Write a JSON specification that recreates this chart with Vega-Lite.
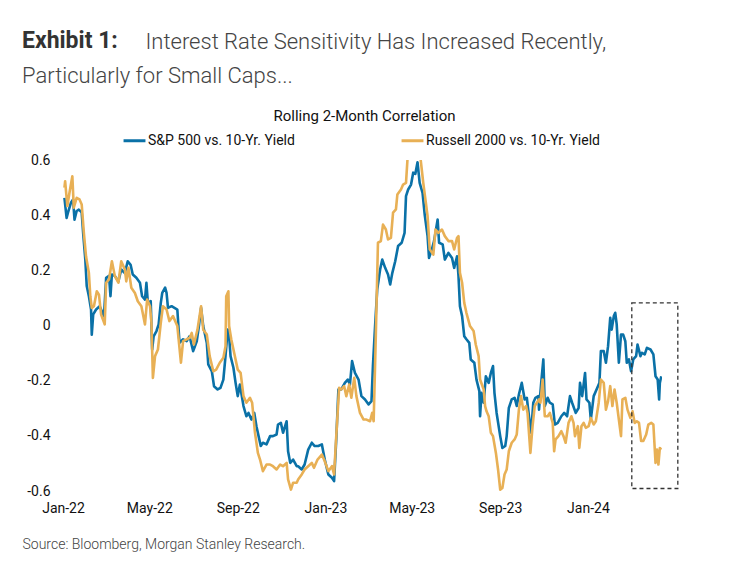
{
  "$schema": "https://vega.github.io/schema/vega-lite/v6.json",
  "autosize": "none",
  "padding": {"left": 63, "top": 160, "right": 70, "bottom": 81},
  "width": 599,
  "height": 331,
  "background": "white",
  "title": {
    "text": "Exhibit 1:",
    "subtitle": "Particularly for Small Caps...",
    "anchor": "start",
    "frame": "group",
    "dx": -41,
    "offset": -57,
    "font": "Roboto",
    "fontSize": 23,
    "fontWeight": "bold",
    "color": "#333333",
    "subtitleFont": "Roboto",
    "subtitleFontSize": 22,
    "subtitleFontWeight": 300,
    "subtitleColor": "#444444",
    "subtitlePadding": 13
  },
  "config": {
    "view": {"stroke": null},
    "font": "Roboto",
    "locale": {"number": {"decimal": ".", "thousands": ",", "grouping": [3], "currency": ["$", ""], "minus": "-"}}
  },
  "resolve": {"axis": {"x": "independent"}},
  "layer": [
    {
      "mark": {"type": "rule", "color": "#444444", "strokeWidth": 1.2},
      "encoding": {"y": {"datum": 0, "type": "quantitative"}}
    },
    {
      "data": {"values": [
        {"d":"2022-01-03","s":"S","v":0.463},{"d":"2022-01-06","s":"S","v":0.39},{"d":"2022-01-08","s":"S","v":0.41},{"d":"2022-01-12","s":"S","v":0.445},{"d":"2022-01-15","s":"S","v":0.457},{"d":"2022-01-17","s":"S","v":0.384},{"d":"2022-01-20","s":"S","v":0.415},{"d":"2022-01-23","s":"S","v":0.42},{"d":"2022-01-27","s":"S","v":0.41},{"d":"2022-01-29","s":"S","v":0.336},
        {"d":"2022-02-01","s":"S","v":0.24},{"d":"2022-02-03","s":"S","v":0.143},{"d":"2022-02-06","s":"S","v":0.106},{"d":"2022-02-09","s":"S","v":0.058},{"d":"2022-02-10","s":"S","v":-0.033},{"d":"2022-02-12","s":"S","v":0.04},{"d":"2022-02-16","s":"S","v":0.058},{"d":"2022-02-21","s":"S","v":0.07},{"d":"2022-02-27","s":"S","v":0.034},
        {"d":"2022-03-02","s":"S","v":0.173},{"d":"2022-03-06","s":"S","v":0.18},{"d":"2022-03-08","s":"S","v":0.106},{"d":"2022-03-10","s":"S","v":0.185},{"d":"2022-03-14","s":"S","v":0.18},{"d":"2022-03-19","s":"S","v":0.16},{"d":"2022-03-23","s":"S","v":0.203},{"d":"2022-03-28","s":"S","v":0.19},
        {"d":"2022-04-01","s":"S","v":0.233},{"d":"2022-04-05","s":"S","v":0.22},{"d":"2022-04-08","s":"S","v":0.185},{"d":"2022-04-13","s":"S","v":0.173},{"d":"2022-04-18","s":"S","v":0.155},{"d":"2022-04-21","s":"S","v":0.106},{"d":"2022-04-25","s":"S","v":0.094},{"d":"2022-04-27","s":"S","v":0.155},{"d":"2022-04-29","s":"S","v":0.082},
        {"d":"2022-05-03","s":"S","v":0.088},{"d":"2022-05-05","s":"S","v":-0.087},{"d":"2022-05-07","s":"S","v":-0.039},{"d":"2022-05-11","s":"S","v":-0.02},{"d":"2022-05-14","s":"S","v":0.004},{"d":"2022-05-17","s":"S","v":0.082},{"d":"2022-05-19","s":"S","v":0.118},{"d":"2022-05-23","s":"S","v":0.137},{"d":"2022-05-25","s":"S","v":0.118},{"d":"2022-05-27","s":"S","v":0.064},
        {"d":"2022-06-01","s":"S","v":0.07},{"d":"2022-06-05","s":"S","v":0.064},{"d":"2022-06-09","s":"S","v":0.058},{"d":"2022-06-12","s":"S","v":-0.063},{"d":"2022-06-17","s":"S","v":-0.05},{"d":"2022-06-22","s":"S","v":-0.057},{"d":"2022-06-26","s":"S","v":-0.039},
        {"d":"2022-07-01","s":"S","v":-0.093},{"d":"2022-07-06","s":"S","v":-0.057},{"d":"2022-07-09","s":"S","v":-0.002},{"d":"2022-07-12","s":"S","v":0.064},{"d":"2022-07-15","s":"S","v":-0.002},{"d":"2022-07-20","s":"S","v":-0.063},{"d":"2022-07-22","s":"S","v":-0.141},{"d":"2022-07-27","s":"S","v":-0.166},{"d":"2022-07-30","s":"S","v":-0.22},
        {"d":"2022-08-04","s":"S","v":-0.232},{"d":"2022-08-08","s":"S","v":-0.226},{"d":"2022-08-12","s":"S","v":-0.196},{"d":"2022-08-15","s":"S","v":-0.111},{"d":"2022-08-18","s":"S","v":-0.015},{"d":"2022-08-20","s":"S","v":-0.039},{"d":"2022-08-22","s":"S","v":-0.111},{"d":"2022-08-26","s":"S","v":-0.153},{"d":"2022-08-29","s":"S","v":-0.208},
        {"d":"2022-09-01","s":"S","v":-0.256},{"d":"2022-09-04","s":"S","v":-0.214},{"d":"2022-09-09","s":"S","v":-0.292},{"d":"2022-09-13","s":"S","v":-0.329},{"d":"2022-09-16","s":"S","v":-0.317},{"d":"2022-09-20","s":"S","v":-0.341},{"d":"2022-09-24","s":"S","v":-0.317},{"d":"2022-09-27","s":"S","v":-0.365},{"d":"2022-09-30","s":"S","v":-0.401},
        {"d":"2022-10-03","s":"S","v":-0.437},{"d":"2022-10-06","s":"S","v":-0.425},{"d":"2022-10-11","s":"S","v":-0.431},{"d":"2022-10-16","s":"S","v":-0.401},{"d":"2022-10-20","s":"S","v":-0.401},{"d":"2022-10-25","s":"S","v":-0.395},{"d":"2022-10-27","s":"S","v":-0.359},{"d":"2022-10-31","s":"S","v":-0.353},
        {"d":"2022-11-03","s":"S","v":-0.389},{"d":"2022-11-08","s":"S","v":-0.347},{"d":"2022-11-10","s":"S","v":-0.456},{"d":"2022-11-13","s":"S","v":-0.498},{"d":"2022-11-17","s":"S","v":-0.486},{"d":"2022-11-22","s":"S","v":-0.51},{"d":"2022-11-24","s":"S","v":-0.51},{"d":"2022-11-29","s":"S","v":-0.522},
        {"d":"2022-12-03","s":"S","v":-0.504},{"d":"2022-12-08","s":"S","v":-0.45},{"d":"2022-12-13","s":"S","v":-0.425},{"d":"2022-12-17","s":"S","v":-0.437},{"d":"2022-12-22","s":"S","v":-0.437},{"d":"2022-12-27","s":"S","v":-0.431},{"d":"2022-12-31","s":"S","v":-0.486},
        {"d":"2023-01-05","s":"S","v":-0.54},{"d":"2023-01-10","s":"S","v":-0.552},{"d":"2023-01-13","s":"S","v":-0.564},{"d":"2023-01-16","s":"S","v":-0.413},{"d":"2023-01-19","s":"S","v":-0.232},{"d":"2023-01-23","s":"S","v":-0.232},{"d":"2023-01-28","s":"S","v":-0.208},
        {"d":"2023-02-01","s":"S","v":-0.196},{"d":"2023-02-04","s":"S","v":-0.214},{"d":"2023-02-07","s":"S","v":-0.129},{"d":"2023-02-11","s":"S","v":-0.172},{"d":"2023-02-16","s":"S","v":-0.196},{"d":"2023-02-20","s":"S","v":-0.256},{"d":"2023-02-25","s":"S","v":-0.268},
        {"d":"2023-03-02","s":"S","v":-0.286},{"d":"2023-03-06","s":"S","v":-0.274},{"d":"2023-03-08","s":"S","v":-0.147},{"d":"2023-03-11","s":"S","v":-0.002},{"d":"2023-03-14","s":"S","v":0.131},{"d":"2023-03-18","s":"S","v":0.203},{"d":"2023-03-21","s":"S","v":0.239},{"d":"2023-03-25","s":"S","v":0.209},{"d":"2023-03-29","s":"S","v":0.185},
        {"d":"2023-04-01","s":"S","v":0.149},{"d":"2023-04-04","s":"S","v":0.191},{"d":"2023-04-08","s":"S","v":0.233},{"d":"2023-04-12","s":"S","v":0.288},{"d":"2023-04-17","s":"S","v":0.3},{"d":"2023-04-21","s":"S","v":0.336},{"d":"2023-04-23","s":"S","v":0.469},{"d":"2023-04-26","s":"S","v":0.493},{"d":"2023-04-30","s":"S","v":0.511},
        {"d":"2023-05-03","s":"S","v":0.554},{"d":"2023-05-06","s":"S","v":0.55},{"d":"2023-05-09","s":"S","v":0.592},{"d":"2023-05-12","s":"S","v":0.517},{"d":"2023-05-16","s":"S","v":0.481},{"d":"2023-05-19","s":"S","v":0.402},{"d":"2023-05-23","s":"S","v":0.324},{"d":"2023-05-25","s":"S","v":0.245},{"d":"2023-05-29","s":"S","v":0.276},
        {"d":"2023-06-01","s":"S","v":0.306},{"d":"2023-06-06","s":"S","v":0.384},{"d":"2023-06-08","s":"S","v":0.3},{"d":"2023-06-13","s":"S","v":0.294},{"d":"2023-06-16","s":"S","v":0.239},{"d":"2023-06-21","s":"S","v":0.263},{"d":"2023-06-26","s":"S","v":0.245},{"d":"2023-06-29","s":"S","v":0.209},
        {"d":"2023-07-03","s":"S","v":0.251},{"d":"2023-07-05","s":"S","v":0.179},{"d":"2023-07-07","s":"S","v":0.07},{"d":"2023-07-10","s":"S","v":0.034},{"d":"2023-07-13","s":"S","v":-0.039},{"d":"2023-07-16","s":"S","v":-0.05},{"d":"2023-07-20","s":"S","v":-0.063},{"d":"2023-07-22","s":"S","v":-0.123},{"d":"2023-07-27","s":"S","v":-0.135},{"d":"2023-07-30","s":"S","v":-0.196},
        {"d":"2023-08-03","s":"S","v":-0.238},{"d":"2023-08-04","s":"S","v":-0.329},{"d":"2023-08-06","s":"S","v":-0.244},{"d":"2023-08-09","s":"S","v":-0.28},{"d":"2023-08-12","s":"S","v":-0.184},{"d":"2023-08-16","s":"S","v":-0.208},{"d":"2023-08-19","s":"S","v":-0.172},{"d":"2023-08-22","s":"S","v":-0.147},{"d":"2023-08-24","s":"S","v":-0.244},{"d":"2023-08-27","s":"S","v":-0.317},
        {"d":"2023-09-01","s":"S","v":-0.401},{"d":"2023-09-04","s":"S","v":-0.444},{"d":"2023-09-08","s":"S","v":-0.437},{"d":"2023-09-10","s":"S","v":-0.401},{"d":"2023-09-13","s":"S","v":-0.299},{"d":"2023-09-17","s":"S","v":-0.268},{"d":"2023-09-21","s":"S","v":-0.262},{"d":"2023-09-24","s":"S","v":-0.292},{"d":"2023-09-27","s":"S","v":-0.25},
        {"d":"2023-10-01","s":"S","v":-0.208},{"d":"2023-10-05","s":"S","v":-0.268},{"d":"2023-10-08","s":"S","v":-0.262},{"d":"2023-10-11","s":"S","v":-0.329},{"d":"2023-10-14","s":"S","v":-0.389},{"d":"2023-10-17","s":"S","v":-0.28},{"d":"2023-10-20","s":"S","v":-0.262},{"d":"2023-10-24","s":"S","v":-0.256},{"d":"2023-10-25","s":"S","v":-0.305},{"d":"2023-10-28","s":"S","v":-0.208},{"d":"2023-10-31","s":"S","v":-0.123},
        {"d":"2023-11-02","s":"S","v":-0.292},{"d":"2023-11-06","s":"S","v":-0.262},{"d":"2023-11-09","s":"S","v":-0.28},{"d":"2023-11-13","s":"S","v":-0.286},{"d":"2023-11-16","s":"S","v":-0.359},{"d":"2023-11-20","s":"S","v":-0.353},{"d":"2023-11-25","s":"S","v":-0.329},{"d":"2023-11-29","s":"S","v":-0.317},
        {"d":"2023-12-03","s":"S","v":-0.329},{"d":"2023-12-07","s":"S","v":-0.256},{"d":"2023-12-10","s":"S","v":-0.28},{"d":"2023-12-15","s":"S","v":-0.317},{"d":"2023-12-19","s":"S","v":-0.299},{"d":"2023-12-21","s":"S","v":-0.208},{"d":"2023-12-24","s":"S","v":-0.256},{"d":"2023-12-28","s":"S","v":-0.172},{"d":"2023-12-30","s":"S","v":-0.268},
        {"d":"2024-01-03","s":"S","v":-0.28},{"d":"2024-01-05","s":"S","v":-0.341},{"d":"2024-01-09","s":"S","v":-0.256},{"d":"2024-01-13","s":"S","v":-0.232},{"d":"2024-01-17","s":"S","v":-0.208},{"d":"2024-01-19","s":"S","v":-0.093},{"d":"2024-01-23","s":"S","v":-0.093},{"d":"2024-01-26","s":"S","v":-0.135},{"d":"2024-01-29","s":"S","v":-0.075},
        {"d":"2024-02-01","s":"S","v":0.028},{"d":"2024-02-03","s":"S","v":-0.015},{"d":"2024-02-06","s":"S","v":0.034},{"d":"2024-02-08","s":"S","v":0.046},{"d":"2024-02-10","s":"S","v":0.004},{"d":"2024-02-13","s":"S","v":-0.135},{"d":"2024-02-16","s":"S","v":-0.033},{"d":"2024-02-19","s":"S","v":-0.033},{"d":"2024-02-22","s":"S","v":-0.057},{"d":"2024-02-24","s":"S","v":-0.135},{"d":"2024-02-27","s":"S","v":-0.123},
        {"d":"2024-03-01","s":"S","v":-0.166},{"d":"2024-03-04","s":"S","v":-0.123},{"d":"2024-03-08","s":"S","v":-0.111},{"d":"2024-03-10","s":"S","v":-0.069},{"d":"2024-03-14","s":"S","v":-0.111},{"d":"2024-03-16","s":"S","v":-0.099},{"d":"2024-03-20","s":"S","v":-0.105},{"d":"2024-03-23","s":"S","v":-0.081},{"d":"2024-03-28","s":"S","v":-0.087},
        {"d":"2024-04-01","s":"S","v":-0.105},{"d":"2024-04-04","s":"S","v":-0.184},{"d":"2024-04-07","s":"S","v":-0.196},{"d":"2024-04-09","s":"S","v":-0.268},{"d":"2024-04-10","s":"S","v":-0.208},{"d":"2024-04-12","s":"S","v":-0.184},

        {"d":"2022-01-03","s":"R","v":0.5},{"d":"2022-01-04","s":"R","v":0.523},{"d":"2022-01-07","s":"R","v":0.433},{"d":"2022-01-10","s":"R","v":0.481},{"d":"2022-01-14","s":"R","v":0.541},{"d":"2022-01-16","s":"R","v":0.427},{"d":"2022-01-20","s":"R","v":0.463},{"d":"2022-01-24","s":"R","v":0.457},{"d":"2022-01-27","s":"R","v":0.439},{"d":"2022-01-30","s":"R","v":0.336},
        {"d":"2022-02-02","s":"R","v":0.251},{"d":"2022-02-06","s":"R","v":0.19},{"d":"2022-02-08","s":"R","v":0.106},{"d":"2022-02-10","s":"R","v":0.064},{"d":"2022-02-13","s":"R","v":0.07},{"d":"2022-02-17","s":"R","v":0.124},{"d":"2022-02-20","s":"R","v":0.112},{"d":"2022-02-23","s":"R","v":0.04},{"d":"2022-02-28","s":"R","v":0.004},
        {"d":"2022-03-02","s":"R","v":0.155},{"d":"2022-03-06","s":"R","v":0.167},{"d":"2022-03-10","s":"R","v":0.233},{"d":"2022-03-14","s":"R","v":0.18},{"d":"2022-03-19","s":"R","v":0.155},{"d":"2022-03-23","s":"R","v":0.233},{"d":"2022-03-28","s":"R","v":0.203},{"d":"2022-03-30","s":"R","v":0.16},
        {"d":"2022-04-02","s":"R","v":0.209},{"d":"2022-04-06","s":"R","v":0.137},{"d":"2022-04-11","s":"R","v":0.118},{"d":"2022-04-15","s":"R","v":0.088},{"d":"2022-04-20","s":"R","v":0.07},{"d":"2022-04-25","s":"R","v":0.004},{"d":"2022-04-28","s":"R","v":0.094},
        {"d":"2022-05-02","s":"R","v":0.07},{"d":"2022-05-04","s":"R","v":0.01},{"d":"2022-05-06","s":"R","v":-0.19},{"d":"2022-05-09","s":"R","v":-0.111},{"d":"2022-05-13","s":"R","v":-0.087},{"d":"2022-05-17","s":"R","v":0.01},{"d":"2022-05-20","s":"R","v":0.07},{"d":"2022-05-25","s":"R","v":0.058},{"d":"2022-05-29","s":"R","v":0.016},
        {"d":"2022-06-03","s":"R","v":0.034},{"d":"2022-06-09","s":"R","v":-0.002},{"d":"2022-06-14","s":"R","v":-0.135},{"d":"2022-06-17","s":"R","v":-0.057},{"d":"2022-06-22","s":"R","v":-0.05},{"d":"2022-06-26","s":"R","v":-0.045},{"d":"2022-06-29","s":"R","v":-0.027},
        {"d":"2022-07-02","s":"R","v":-0.069},{"d":"2022-07-07","s":"R","v":-0.015},{"d":"2022-07-12","s":"R","v":0.07},{"d":"2022-07-15","s":"R","v":-0.015},{"d":"2022-07-20","s":"R","v":-0.033},{"d":"2022-07-24","s":"R","v":-0.111},{"d":"2022-07-29","s":"R","v":-0.166},
        {"d":"2022-08-02","s":"R","v":-0.16},{"d":"2022-08-07","s":"R","v":-0.135},{"d":"2022-08-12","s":"R","v":-0.117},{"d":"2022-08-15","s":"R","v":-0.075},{"d":"2022-08-16","s":"R","v":0.106},{"d":"2022-08-19","s":"R","v":0.124},{"d":"2022-08-20","s":"R","v":-0.002},{"d":"2022-08-23","s":"R","v":-0.05},{"d":"2022-08-27","s":"R","v":-0.099},
        {"d":"2022-09-01","s":"R","v":-0.16},{"d":"2022-09-05","s":"R","v":-0.172},{"d":"2022-09-09","s":"R","v":-0.256},{"d":"2022-09-13","s":"R","v":-0.28},{"d":"2022-09-18","s":"R","v":-0.262},{"d":"2022-09-21","s":"R","v":-0.28},{"d":"2022-09-25","s":"R","v":-0.389},{"d":"2022-09-29","s":"R","v":-0.462},
        {"d":"2022-10-02","s":"R","v":-0.486},{"d":"2022-10-06","s":"R","v":-0.528},{"d":"2022-10-11","s":"R","v":-0.504},{"d":"2022-10-16","s":"R","v":-0.504},{"d":"2022-10-20","s":"R","v":-0.51},{"d":"2022-10-25","s":"R","v":-0.522},{"d":"2022-10-30","s":"R","v":-0.504},
        {"d":"2022-11-03","s":"R","v":-0.51},{"d":"2022-11-08","s":"R","v":-0.498},{"d":"2022-11-10","s":"R","v":-0.558},{"d":"2022-11-14","s":"R","v":-0.595},{"d":"2022-11-17","s":"R","v":-0.57},{"d":"2022-11-22","s":"R","v":-0.57},{"d":"2022-11-24","s":"R","v":-0.558},{"d":"2022-11-29","s":"R","v":-0.54},
        {"d":"2022-12-03","s":"R","v":-0.522},{"d":"2022-12-08","s":"R","v":-0.51},{"d":"2022-12-13","s":"R","v":-0.498},{"d":"2022-12-16","s":"R","v":-0.516},{"d":"2022-12-21","s":"R","v":-0.486},{"d":"2022-12-27","s":"R","v":-0.468},{"d":"2022-12-31","s":"R","v":-0.492},
        {"d":"2023-01-05","s":"R","v":-0.528},{"d":"2023-01-10","s":"R","v":-0.51},{"d":"2023-01-13","s":"R","v":-0.54},{"d":"2023-01-16","s":"R","v":-0.401},{"d":"2023-01-20","s":"R","v":-0.226},{"d":"2023-01-23","s":"R","v":-0.232},{"d":"2023-01-27","s":"R","v":-0.22},{"d":"2023-01-30","s":"R","v":-0.256},
        {"d":"2023-02-03","s":"R","v":-0.214},{"d":"2023-02-06","s":"R","v":-0.262},{"d":"2023-02-10","s":"R","v":-0.19},{"d":"2023-02-13","s":"R","v":-0.256},{"d":"2023-02-18","s":"R","v":-0.317},{"d":"2023-02-23","s":"R","v":-0.341},{"d":"2023-02-27","s":"R","v":-0.341},
        {"d":"2023-03-04","s":"R","v":-0.347},{"d":"2023-03-07","s":"R","v":-0.317},{"d":"2023-03-09","s":"R","v":-0.347},{"d":"2023-03-12","s":"R","v":-0.039},{"d":"2023-03-15","s":"R","v":0.3},{"d":"2023-03-19","s":"R","v":0.306},{"d":"2023-03-22","s":"R","v":0.366},{"d":"2023-03-26","s":"R","v":0.348},{"d":"2023-03-29","s":"R","v":0.312},
        {"d":"2023-04-02","s":"R","v":0.318},{"d":"2023-04-05","s":"R","v":0.409},{"d":"2023-04-09","s":"R","v":0.421},{"d":"2023-04-11","s":"R","v":0.475},{"d":"2023-04-16","s":"R","v":0.493},{"d":"2023-04-19","s":"R","v":0.511},{"d":"2023-04-23","s":"R","v":0.517},{"d":"2023-04-25","s":"R","v":0.6},{"d":"2023-04-27","s":"R","v":0.63},
        {"d":"2023-05-01","s":"R","v":0.66},{"d":"2023-05-05","s":"R","v":0.64},{"d":"2023-05-09","s":"R","v":0.65},{"d":"2023-05-13","s":"R","v":0.61},{"d":"2023-05-17","s":"R","v":0.517},{"d":"2023-05-20","s":"R","v":0.457},{"d":"2023-05-23","s":"R","v":0.396},{"d":"2023-05-26","s":"R","v":0.276},{"d":"2023-05-31","s":"R","v":0.257},
        {"d":"2023-06-03","s":"R","v":0.348},{"d":"2023-06-07","s":"R","v":0.336},{"d":"2023-06-12","s":"R","v":0.348},{"d":"2023-06-16","s":"R","v":0.324},{"d":"2023-06-21","s":"R","v":0.306},{"d":"2023-06-26","s":"R","v":0.306},{"d":"2023-06-29","s":"R","v":0.276},
        {"d":"2023-07-03","s":"R","v":0.318},{"d":"2023-07-05","s":"R","v":0.324},{"d":"2023-07-07","s":"R","v":0.191},{"d":"2023-07-10","s":"R","v":0.155},{"d":"2023-07-13","s":"R","v":0.082},{"d":"2023-07-16","s":"R","v":0.046},{"d":"2023-07-21","s":"R","v":-0.002},{"d":"2023-07-26","s":"R","v":-0.02},{"d":"2023-07-29","s":"R","v":-0.069},
        {"d":"2023-08-02","s":"R","v":-0.111},{"d":"2023-08-04","s":"R","v":-0.196},{"d":"2023-08-09","s":"R","v":-0.232},{"d":"2023-08-11","s":"R","v":-0.292},{"d":"2023-08-13","s":"R","v":-0.311},{"d":"2023-08-16","s":"R","v":-0.329},{"d":"2023-08-19","s":"R","v":-0.389},{"d":"2023-08-22","s":"R","v":-0.401},{"d":"2023-08-26","s":"R","v":-0.462},{"d":"2023-08-29","s":"R","v":-0.522},
        {"d":"2023-09-01","s":"R","v":-0.595},{"d":"2023-09-04","s":"R","v":-0.589},{"d":"2023-09-07","s":"R","v":-0.54},{"d":"2023-09-10","s":"R","v":-0.522},{"d":"2023-09-13","s":"R","v":-0.456},{"d":"2023-09-17","s":"R","v":-0.425},{"d":"2023-09-21","s":"R","v":-0.413},{"d":"2023-09-24","s":"R","v":-0.395},{"d":"2023-09-27","s":"R","v":-0.305},{"d":"2023-09-30","s":"R","v":-0.256},
        {"d":"2023-10-03","s":"R","v":-0.305},{"d":"2023-10-07","s":"R","v":-0.292},{"d":"2023-10-09","s":"R","v":-0.317},{"d":"2023-10-13","s":"R","v":-0.462},{"d":"2023-10-16","s":"R","v":-0.365},{"d":"2023-10-19","s":"R","v":-0.292},{"d":"2023-10-22","s":"R","v":-0.28},{"d":"2023-10-25","s":"R","v":-0.268},{"d":"2023-10-27","s":"R","v":-0.28},{"d":"2023-10-30","s":"R","v":-0.196},
        {"d":"2023-11-02","s":"R","v":-0.329},{"d":"2023-11-06","s":"R","v":-0.329},{"d":"2023-11-09","s":"R","v":-0.317},{"d":"2023-11-13","s":"R","v":-0.353},{"d":"2023-11-15","s":"R","v":-0.456},{"d":"2023-11-17","s":"R","v":-0.413},{"d":"2023-11-21","s":"R","v":-0.401},{"d":"2023-11-25","s":"R","v":-0.383},{"d":"2023-11-28","s":"R","v":-0.401},
        {"d":"2023-12-01","s":"R","v":-0.425},{"d":"2023-12-05","s":"R","v":-0.353},{"d":"2023-12-09","s":"R","v":-0.329},{"d":"2023-12-12","s":"R","v":-0.353},{"d":"2023-12-14","s":"R","v":-0.401},{"d":"2023-12-18","s":"R","v":-0.365},{"d":"2023-12-20","s":"R","v":-0.444},{"d":"2023-12-23","s":"R","v":-0.365},{"d":"2023-12-26","s":"R","v":-0.353},{"d":"2023-12-29","s":"R","v":-0.371},
        {"d":"2024-01-02","s":"R","v":-0.365},{"d":"2024-01-05","s":"R","v":-0.335},{"d":"2024-01-09","s":"R","v":-0.359},{"d":"2024-01-12","s":"R","v":-0.347},{"d":"2024-01-16","s":"R","v":-0.28},{"d":"2024-01-19","s":"R","v":-0.196},{"d":"2024-01-23","s":"R","v":-0.208},{"d":"2024-01-26","s":"R","v":-0.305},{"d":"2024-01-29","s":"R","v":-0.274},
        {"d":"2024-02-01","s":"R","v":-0.22},{"d":"2024-02-04","s":"R","v":-0.292},{"d":"2024-02-07","s":"R","v":-0.232},{"d":"2024-02-10","s":"R","v":-0.28},{"d":"2024-02-13","s":"R","v":-0.341},{"d":"2024-02-16","s":"R","v":-0.401},{"d":"2024-02-18","s":"R","v":-0.268},{"d":"2024-02-22","s":"R","v":-0.262},{"d":"2024-02-25","s":"R","v":-0.305},{"d":"2024-02-29","s":"R","v":-0.335},
        {"d":"2024-03-03","s":"R","v":-0.311},{"d":"2024-03-06","s":"R","v":-0.353},{"d":"2024-03-09","s":"R","v":-0.347},{"d":"2024-03-12","s":"R","v":-0.353},{"d":"2024-03-15","s":"R","v":-0.419},{"d":"2024-03-18","s":"R","v":-0.419},{"d":"2024-03-22","s":"R","v":-0.395},{"d":"2024-03-25","s":"R","v":-0.359},{"d":"2024-03-29","s":"R","v":-0.353},
        {"d":"2024-04-01","s":"R","v":-0.359},{"d":"2024-04-04","s":"R","v":-0.498},{"d":"2024-04-06","s":"R","v":-0.45},{"d":"2024-04-08","s":"R","v":-0.504},{"d":"2024-04-10","s":"R","v":-0.444},{"d":"2024-04-12","s":"R","v":-0.45}
      ]},
      "mark": {"type": "line", "strokeWidth": 2.6, "clip": true, "strokeJoin": "round"},
      "encoding": {
        "x": {
          "field": "d", "type": "temporal",
          "scale": {"type": "utc", "domain": [{"year": 2022, "month": 1, "date": 1, "utc": true}, {"year": 2024, "month": 4, "date": 13, "utc": true}], "nice": false},
          "axis": {
            "orient": "bottom",
            "values": [
              {"year": 2022, "month": 1, "date": 1, "utc": true},
              {"year": 2022, "month": 5, "date": 1, "utc": true},
              {"year": 2022, "month": 9, "date": 1, "utc": true},
              {"year": 2023, "month": 1, "date": 1, "utc": true},
              {"year": 2023, "month": 5, "date": 1, "utc": true},
              {"year": 2023, "month": 9, "date": 1, "utc": true},
              {"year": 2024, "month": 1, "date": 1, "utc": true}
            ],
            "format": "%b-%y",
            "labelFont": "Roboto", "labelFontSize": 14, "labelColor": "#111111",
            "labelPadding": 10, "labelFlush": false, "labelOverlap": false,
            "domain": false, "ticks": false, "grid": false,
            "title": "Source: Bloomberg, Morgan Stanley Research.",
            "titleFont": "Roboto", "titleFontSize": 14, "titleFontWeight": 300, "titleColor": "#444444",
            "titleAlign": "left", "titleAnchor": "start", "titleBaseline": "alphabetic",
            "titleX": -41, "titleY": 57
          }
        },
        "y": {
          "field": "v", "type": "quantitative",
          "scale": {"domain": [-0.6, 0.6], "nice": false, "zero": false},
          "axis": {
            "values": [-0.6, -0.4, -0.2, 0, 0.2, 0.4, 0.6],
            "format": "~g",
            "labelFont": "Roboto", "labelFontSize": 14, "labelColor": "#111111",
            "labelPadding": 13, "labelFlush": false,
            "domain": false, "ticks": false, "grid": false,
            "title": "Rolling 2-Month Correlation",
            "titleFont": "Roboto", "titleFontSize": 15, "titleFontWeight": "normal", "titleColor": "#111111",
            "titleAngle": 0, "titleAlign": "center", "titleBaseline": "alphabetic",
            "titleX": 301, "titleY": -40
          }
        },
        "color": {
          "field": "s", "type": "nominal",
          "scale": {"domain": ["S", "R"], "range": ["#0A71A7", "#E8B055"]},
          "legend": {
            "orient": "none", "legendX": 59, "legendY": -32,
            "direction": "horizontal", "title": null,
            "symbolType": "stroke", "symbolStrokeWidth": 3, "symbolSize": 480,
            "labelFont": "Roboto", "labelFontSize": 14, "labelColor": "#111111",
            "labelOffset": 1, "columnPadding": 100, "labelLimit": 300,
            "labelExpr": "datum.label == 'S' ? 'S&P 500 vs. 10-Yr. Yield' : 'Russell 2000 vs. 10-Yr. Yield'"
          }
        }
      }
    },
    {
      "data": {"values": [{"a": "2024-03-02", "b": "2024-05-05", "hi": 0.082, "lo": -0.591}]},
      "mark": {"type": "rect", "fill": null, "fillOpacity": 0, "stroke": "#333333", "strokeWidth": 1.3, "strokeDash": [4, 3], "clip": false},
      "encoding": {
        "x": {
          "field": "a", "type": "temporal",
          "axis": {
            "orient": "top", "labels": false, "ticks": false, "domain": false, "grid": false,
            "title": "Interest Rate Sensitivity Has Increased Recently,",
            "titleFont": "Roboto", "titleFontSize": 22, "titleFontWeight": 300, "titleColor": "#444444",
            "titleAlign": "left", "titleAnchor": "start", "titleBaseline": "alphabetic",
            "titleX": 82, "titleY": -112
          }
        },
        "x2": {"field": "b"},
        "y": {"field": "hi", "type": "quantitative"},
        "y2": {"field": "lo"}
      }
    }
  ]
}
